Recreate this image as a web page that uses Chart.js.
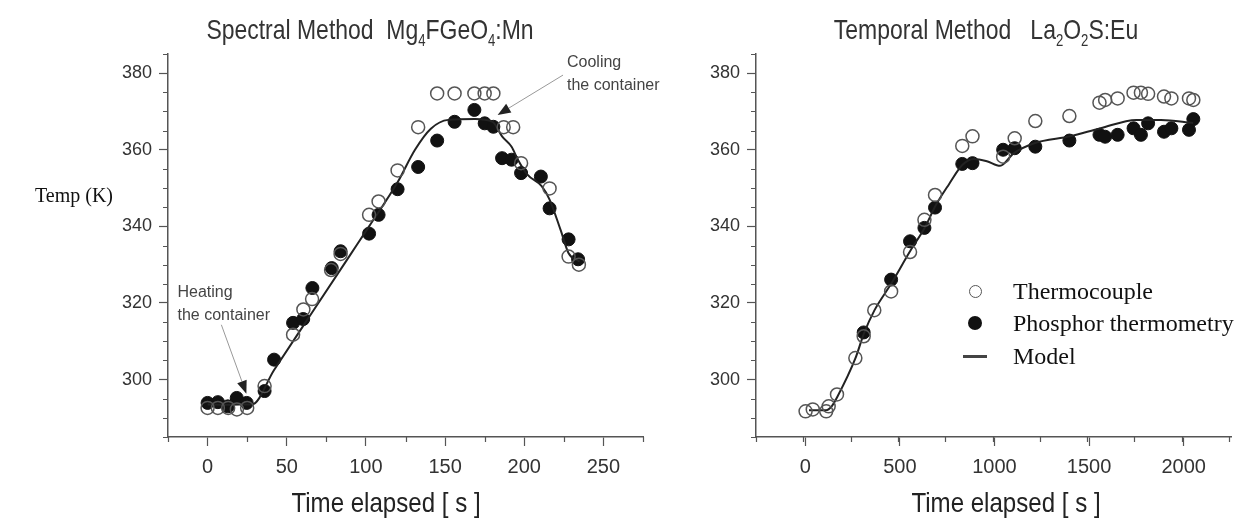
<!DOCTYPE html>
<html>
<head>
<meta charset="utf-8">
<script src="https://cdn.jsdelivr.net/npm/chart.js@4.4.1/dist/chart.umd.min.js"></script>
<style>
  html, body { margin: 0; padding: 0; background: #fff; }
  #wrap { position: relative; width: 1253px; height: 531px; overflow: hidden; }
  canvas { position: absolute; top: 0; }
  .title, .xtitle {
    position: absolute; transform-origin: 50% 50%;
    font-family: 'Liberation Sans Narrow', 'Arial Narrow', 'Liberation Sans', Arial, sans-serif;
    color: #333; white-space: nowrap; line-height: 32px;
  }
  .title { top: 14px; font-size: 28px; transform: translateX(-50%) scaleX(0.82); }
  .title sub { font-size: 16px; vertical-align: -7px; line-height: 0; }
  .xtitle { top: 487px; font-size: 28px; color: #222; transform: translateX(-50%) scaleX(0.86); }
  .serif { position: absolute; font-family: 'Liberation Serif', 'Times New Roman', serif; color: #111; white-space: nowrap; }
  .legend .row { position: absolute; left: 0; height: 30px; line-height: 30px; font-size: 24px; }
  .legend .mark { position: absolute; }
</style>
</head>
<body>
<div id="wrap">
  <canvas id="spectral" width="660" height="531" style="left:0"></canvas>
  <canvas id="temporal" width="613" height="531" style="left:640px"></canvas>

  <div class="title" style="left:370px">Spectral Method&nbsp;&nbsp;Mg<sub>4</sub>FGeO<sub>4</sub>:Mn</div>
  <div class="title" style="left:986px">Temporal Method&nbsp;&nbsp;&nbsp;La<sub>2</sub>O<sub>2</sub>S:Eu</div>
  <div class="xtitle" style="left:386px">Time elapsed [ s ]</div>
  <div class="xtitle" style="left:1006px">Time elapsed [ s ]</div>

  <div class="serif" style="left:35px; top:184px; font-size:20px">Temp (K)</div>

  <div class="serif legend" style="left:960px; top:0">
    <div class="mark" style="left:9px; top:285px; width:11px; height:11px; border:1.5px solid #555; border-radius:50%"></div>
    <div class="mark" style="left:8px; top:316px; width:14px; height:14px; background:#111; border-radius:50%"></div>
    <div class="mark" style="left:3px; top:355px; width:24px; height:2.5px; background:#444"></div>
    <div class="row" style="left:53px; top:276px">Thermocouple</div>
    <div class="row" style="left:53px; top:308px">Phosphor thermometry</div>
    <div class="row" style="left:53px; top:341px">Model</div>
  </div>
</div>

<script>
// Spectral method (Mg4FGeO4:Mn), time in s, temperature in K
const spectralThermoTime = [0, 6.5, 13, 18.5, 25, 36, 54, 60.5, 66, 78, 84, 102, 108, 120, 133, 145, 156, 168.5, 175, 180.5, 187, 193, 198, 216, 228, 234.5]
const spectralThermoTemp = [292.6, 292.6, 292.6, 292.2, 292.6, 298.3, 311.7, 318.3, 321, 328.6, 332.8, 343, 346.5, 354.6, 365.9, 374.7, 374.7, 374.7, 374.7, 374.7, 365.9, 365.9, 356.5, 349.9, 332.1, 330.0]
const spectralPhosTime = [0, 6.5, 12.8, 18.4, 24.7, 36, 42, 54, 60.4, 66.2, 78.4, 84, 102, 108, 120, 133, 145, 156, 168.5, 175, 180.5, 186, 192, 198, 210.5, 216, 228, 234]
const spectralPhosTemp = [293.9, 294.1, 293.0, 295.2, 293.9, 297.0, 305.2, 314.8, 315.8, 323.9, 329.1, 333.5, 338.1, 343.0, 349.7, 355.5, 362.4, 367.3, 370.4, 366.9, 366.0, 357.8, 357.4, 353.9, 353.0, 344.7, 336.6, 331.4]
const spectralModelTime = [0, 10, 20, 28, 42, 66, 90, 102, 120, 131, 141, 152, 169, 180, 186, 192, 196, 202, 211, 216, 223, 228, 235]
const spectralModelTemp = [293.5, 293.4, 293.5, 293.5, 302.5, 317.5, 332.5, 340, 351.5, 360, 365.5, 367.8, 368, 367.3, 363.5, 360.8, 357.4, 353.5, 350.5, 347, 339, 333, 330.8]

// Temporal method (La2O2S:Eu)
const temporalThermoTime = [2, 40, 111, 124, 168, 265, 309, 365, 454, 554, 630, 686, 830, 884, 1046, 1107, 1216, 1396, 1555, 1585, 1651, 1735, 1774, 1812, 1896, 1935, 2028, 2051]
const temporalThermoTemp = [291.7, 292.2, 291.7, 293.0, 296.1, 305.6, 311.3, 318.1, 323.0, 333.3, 341.7, 348.2, 361.0, 363.5, 358.2, 363.0, 367.5, 368.8, 372.3, 373.0, 373.4, 374.9, 374.9, 374.6, 373.9, 373.4, 373.4, 373.0]
const temporalPhosTime = [309, 454, 554, 630, 686, 830, 884, 1046, 1107, 1216, 1396, 1555, 1585, 1651, 1735, 1774, 1812, 1896, 1935, 2028, 2051]
const temporalPhosTemp = [312.3, 326.1, 336.1, 339.6, 344.9, 356.3, 356.5, 360.0, 360.4, 360.8, 362.4, 363.9, 363.4, 363.9, 365.6, 363.9, 366.9, 364.7, 365.6, 365.2, 368.0]
const temporalModelTime = [20, 110, 140, 170, 265, 310, 365, 454, 554, 630, 690, 760, 830, 890, 960, 1030, 1100, 1210, 1400, 1560, 1750, 1880, 2050]
const temporalModelTemp = [292, 292, 293, 295.5, 305.5, 312, 318, 325, 333.5, 339.5, 345.5, 351, 356, 357.6, 357, 355.8, 359, 361.7, 363.5, 365.6, 367.8, 367.8, 367]

// tick labels
const tempTicks = [300, 320, 340, 360, 380]
const spectralTimeTicks = [0, 50, 100, 150, 200, 250]
const temporalTimeTicks = [0, 500, 1000, 1500, 2000]

const axisColor = '#555'

function pts(xs, ys) {
    return xs.map((x, i) => ({ x: x, y: ys[i] }))
}

// short unlabelled ticks between the major ones
const minorTicks = {
    id: 'minorTicks',
    afterDraw(chart, args, opts) {
        let ctx = chart.ctx
        let x = chart.scales.x, y = chart.scales.y
        ctx.save()
        ctx.strokeStyle = axisColor
        ctx.lineWidth = 1.2
        ctx.beginPath()
        for (let v = x.min; v <= x.max + 1e-6; v += opts.xStep) {
            if (Math.abs(v % (2 * opts.xStep)) < 1e-6 && v !== x.min) continue
            let px = Math.round(x.getPixelForValue(v)) + 0.5
            ctx.moveTo(px, y.bottom)
            ctx.lineTo(px, y.bottom + 5)
        }
        for (let v = y.min; v <= y.max + 1e-6; v += 5) {
            if (v % 20 === 0) continue
            let py = Math.round(y.getPixelForValue(v)) + 0.5
            ctx.moveTo(x.left, py)
            ctx.lineTo(x.left - 5, py)
        }
        ctx.stroke()
        ctx.restore()
    }
}

// text notes with an arrow pointing at the curve
const callouts = {
    id: 'callouts',
    afterDatasetsDraw(chart, args, opts) {
        let ctx = chart.ctx
        let x = chart.scales.x, y = chart.scales.y
        ;(opts.items || []).forEach(c => {
            ctx.save()
            ctx.font = "16px 'Liberation Sans', Arial, sans-serif"
            ctx.fillStyle = '#444'
            ctx.textBaseline = 'middle'
            c.lines.forEach((s, i) => {
                ctx.fillText(s, x.getPixelForValue(c.at[0]), y.getPixelForValue(c.at[1]) + i * 23)
            })
            let x0 = x.getPixelForValue(c.from[0]), y0 = y.getPixelForValue(c.from[1])
            let x1 = x.getPixelForValue(c.to[0]), y1 = y.getPixelForValue(c.to[1])
            let a = Math.atan2(y1 - y0, x1 - x0)
            let len = 13, half = 5
            let bx = x1 - len * Math.cos(a), by = y1 - len * Math.sin(a)
            ctx.strokeStyle = '#999'
            ctx.lineWidth = 1
            ctx.beginPath()
            ctx.moveTo(x0, y0)
            ctx.lineTo(bx, by)
            ctx.stroke()
            ctx.fillStyle = '#222'
            ctx.beginPath()
            ctx.moveTo(x1, y1)
            ctx.lineTo(bx + half * Math.sin(a), by - half * Math.cos(a))
            ctx.lineTo(bx - half * Math.sin(a), by + half * Math.cos(a))
            ctx.closePath()
            ctx.fill()
            ctx.restore()
        })
    }
}

function makeChart(id, d) {
    let ctx = document.getElementById(id).getContext('2d')
    return new Chart(ctx, {
        type: 'scatter',
        data: {
            datasets: [{
                label: 'Thermocouple',
                data: pts(d.thermoTime, d.thermoTemp),
                pointRadius: 6.5,
                pointBackgroundColor: 'rgba(0,0,0,0)',
                pointBorderColor: '#555',
                pointBorderWidth: 1.5
            }, {
                label: 'Model',
                type: 'line',
                data: pts(d.modelTime, d.modelTemp),
                borderColor: '#222',
                borderWidth: 2,
                pointRadius: 0,
                fill: false,
                cubicInterpolationMode: 'monotone'
            }, {
                label: 'Phosphor thermometry',
                data: pts(d.phosTime, d.phosTemp),
                pointRadius: 6.5,
                pointBackgroundColor: '#111',
                pointBorderColor: '#111',
                pointBorderWidth: 1
            }]
        },
        options: {
            responsive: false,
            animation: false,
            events: [],
            layout: { padding: { top: 54, right: d.padRight, bottom: 0, left: 0 } },
            plugins: {
                legend: { display: false },
                tooltip: { enabled: false },
                minorTicks: { xStep: d.xStep },
                callouts: { items: d.callouts || [] }
            },
            scales: {
                x: {
                    type: 'linear',
                    min: d.xMin,
                    max: d.xMax,
                    afterBuildTicks: s => { s.ticks = d.xTicks.map(v => ({ value: v })) },
                    afterFit: s => { s.height = 94; s.paddingLeft = 0; s.paddingRight = 0 },
                    grid: { drawOnChartArea: false, tickLength: 9, tickColor: axisColor, tickWidth: 1.2 },
                    border: { color: axisColor, width: 1.5 },
                    ticks: {
                        padding: 9,
                        color: '#333',
                        font: { family: "'Liberation Sans', Arial, sans-serif", size: 20 },
                        callback: v => String(v)
                    }
                },
                y: {
                    min: 285,
                    max: 385,
                    afterBuildTicks: s => { s.ticks = tempTicks.map(v => ({ value: v })) },
                    afterFit: s => { s.width = d.yWidth; s.paddingTop = 0; s.paddingBottom = 0 },
                    grid: { drawOnChartArea: false, tickLength: 9, tickColor: axisColor, tickWidth: 1.2 },
                    border: { color: axisColor, width: 1.5 },
                    ticks: {
                        padding: 7,
                        color: '#333',
                        font: { family: "'Liberation Sans', Arial, sans-serif", size: 18 },
                        callback: v => String(v)
                    }
                }
            }
        },
        plugins: [minorTicks, callouts]
    })
}

makeChart('spectral', {
    thermoTime: spectralThermoTime, thermoTemp: spectralThermoTemp,
    phosTime: spectralPhosTime, phosTemp: spectralPhosTemp,
    modelTime: spectralModelTime, modelTemp: spectralModelTemp,
    xMin: -25, xMax: 275, xStep: 25, xTicks: spectralTimeTicks,
    yWidth: 168, padRight: 17,
    callouts: [
        { lines: ['Heating', 'the container'], at: [-19, 322.7], from: [8.7, 314.3], to: [24.5, 296.3] },
        { lines: ['Cooling', 'the container'], at: [227, 382.7], from: [224.5, 379.5], to: [183.2, 369.1] }
    ]
})

makeChart('temporal', {
    thermoTime: temporalThermoTime, thermoTemp: temporalThermoTemp,
    phosTime: temporalPhosTime, phosTemp: temporalPhosTemp,
    modelTime: temporalModelTime, modelTemp: temporalModelTemp,
    xMin: -260, xMax: 2250, xStep: 250, xTicks: temporalTimeTicks,
    yWidth: 116, padRight: 22
})
</script>
</body>
</html>
